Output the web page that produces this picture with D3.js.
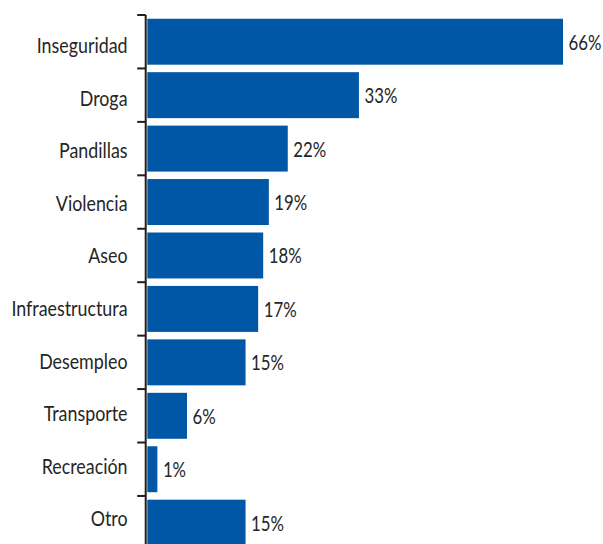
<!DOCTYPE html>
<html>
<head>
<meta charset="utf-8">
<script src="https://cdn.jsdelivr.net/npm/d3@7"></script>
<style>
  html, body { margin: 0; padding: 0; background: #ffffff; }
  svg { display: block; }
  text { font-family: "Lato", "Open Sans", sans-serif; fill: #262626; }
</style>
</head>
<body>
<svg id="chart" width="603" height="544"></svg>
<script>
const categories = ["Inseguridad", "Droga", "Pandillas", "Violencia", "Aseo", "Infraestructura", "Desempleo", "Transporte", "Recreación", "Otro"];
const values = [66, 33.6, 22.3, 19.3, 18.4, 17.6, 15.6, 6.3, 1.6, 15.6];
const valueLabels = ["66%", "33%", "22%", "19%", "18%", "17%", "15%", "6%", "1%", "15%"];

const svg = d3.select("#chart");
const axisX = 145.7;
const yTop = 15, yBottom = 549.4;
const fontSize = 20.5;
const sxCat = 0.87;
const sxVal = 0.82;

const x = d3.scaleLinear().domain([0, 66]).range([147.3, 563]);
const y = d3.scaleBand().domain(categories).range([yTop, yBottom]).paddingInner(0.14).paddingOuter(0.07);
// category labels sit on a slightly tighter grid than the bars
const yLab = d3.scaleBand().domain(categories).range([19.5, 545.2]);

// bars
svg.append("g").selectAll("rect").data(categories).join("rect")
  .attr("x", x(0))
  .attr("y", d => y(d))
  .attr("width", (d, i) => x(values[i]) - x(0))
  .attr("height", y.bandwidth())
  .attr("fill", "#0057a6");

// axis line and ticks at band boundaries
const axisG = svg.append("g");
axisG.append("line")
  .attr("x1", axisX).attr("x2", axisX)
  .attr("y1", yTop).attr("y2", yBottom)
  .attr("stroke", "#1e1e1e").attr("stroke-width", 2);
const bounds = d3.range(categories.length + 1).map(i => yTop + i * y.step());
axisG.selectAll("line.tick").data(bounds).join("line")
  .attr("class", "tick")
  .attr("x1", axisX - 8.5).attr("x2", axisX)
  .attr("y1", d => d).attr("y2", d => d)
  .attr("stroke", "#1e1e1e").attr("stroke-width", 2);

// category labels
svg.append("g").selectAll("text").data(categories).join("text")
  .attr("transform", d => `translate(${axisX - 18.2},${yLab(d) + yLab.bandwidth() / 2 + 7.4})scale(${sxCat},1)`)
  .attr("text-anchor", "end")
  .style("font-size", fontSize + "px")
  .text(d => d);

// value labels
svg.append("g").selectAll("text").data(categories).join("text")
  .attr("transform", (d, i) => `translate(${x(values[i]) + 5.5},${y(d) + y.bandwidth() / 2 + 8})scale(${sxVal},1)`)
  .attr("text-anchor", "start")
  .style("font-size", fontSize + "px")
  .text((d, i) => valueLabels[i]);
</script>
</body>
</html>
